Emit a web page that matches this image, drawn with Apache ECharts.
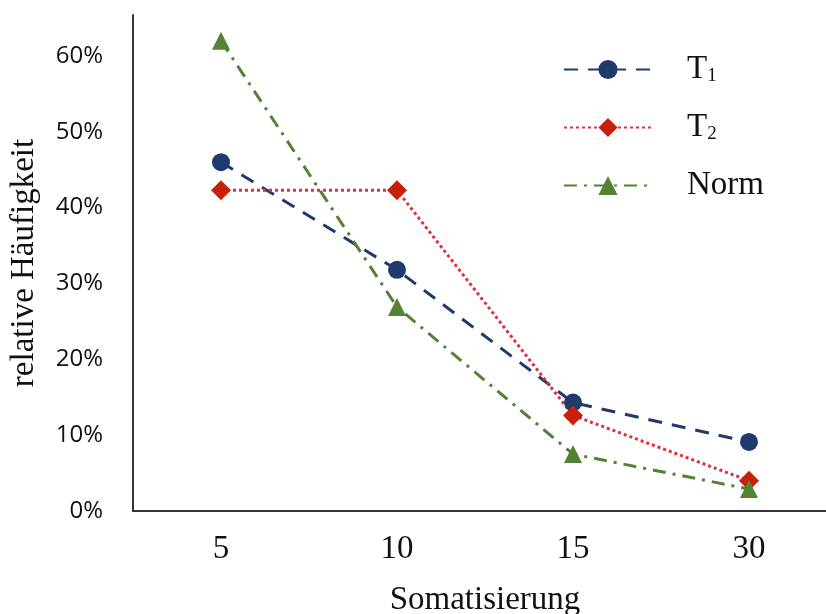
<!DOCTYPE html>
<html>
<head>
<meta charset="utf-8">
<script src="https://cdn.jsdelivr.net/npm/echarts@6/dist/echarts.min.js"></script>
<style>
  html, body { margin: 0; padding: 0; background: #fff; }
  #chart { width: 826px; height: 614px; }
</style>
</head>
<body>
<div id="chart"></div>
<script>
// categories on the x axis
var categories = ['5', '10', '15', '30'];
// relative frequencies per group
var t1Values = [0.46, 0.318, 0.143, 0.091];
var t2Values = [0.423, 0.423, 0.126, 0.04];
var normValues = [0.62, 0.269, 0.075, 0.029];
var yTicks = [0, 0.1, 0.2, 0.3, 0.4, 0.5, 0.6];

var chart = echarts.init(document.getElementById('chart'));

var serif = '"Liberation Serif", "DejaVu Serif", serif';
var sans = '"Open Sans", "Noto Sans", sans-serif';

chart.setOption({
  animation: false,
  backgroundColor: '#fff',
  grid: {
    left: 133,
    top: 15,
    width: 704,
    bottom: 103,
    outerBoundsMode: 'none',
    containLabel: false
  },
  legend: {
    left: 558,
    top: 48,
    orient: 'vertical',
    itemWidth: 88,
    itemHeight: 24,
    itemGap: 25,
    textStyle: {
      fontFamily: serif,
      fontSize: 33,
      color: '#111',
      padding: [0, 0, 0, 30],
      rich: {
        sub: { fontFamily: serif, fontSize: 19, color: '#111', verticalAlign: 'bottom', padding: [14, 0, 0, 0] }
      }
    },
    formatter: function (name) {
      if (name === 'T1') return 'T{sub|1}';
      if (name === 'T2') return 'T{sub|2}';
      return name;
    },
    data: ['T1', 'T2', 'Norm']
  },
  xAxis: {
    type: 'category',
    data: categories,
    boundaryGap: true,
    name: 'Somatisierung',
    nameLocation: 'middle',
    nameGap: 73,
    nameTextStyle: { fontFamily: serif, fontSize: 33, color: '#111' },
    axisLine: { show: true, lineStyle: { color: '#333', width: 2 } },
    axisTick: { show: false },
    axisLabel: { fontFamily: serif, fontSize: 33, color: '#111', margin: 22 },
    splitLine: { show: false }
  },
  yAxis: {
    type: 'value',
    min: yTicks[0],
    max: 0.654,
    interval: 0.1,
    name: 'relative Häufigkeit',
    nameLocation: 'middle',
    nameGap: 92,
    nameTextStyle: { fontFamily: serif, fontSize: 33, color: '#111' },
    axisLine: { show: true, lineStyle: { color: '#333', width: 2 } },
    axisTick: { show: false },
    axisLabel: {
      fontFamily: sans,
      fontSize: 24,
      color: '#111',
      margin: 30,
      showMaxLabel: false,
      formatter: function (v) {
        var p = Math.round(v * 100);
        if (p % 10 !== 0) return '';
        return p + '%';
      }
    },
    splitLine: { show: false }
  },
  series: [
    {
      name: 'T1',
      type: 'line',
      data: t1Values,
      symbol: 'circle',
      symbolSize: 18,
      itemStyle: { color: '#1f3a6e' },
      lineStyle: { color: '#1f3a6e', width: 3, type: [14, 10] }
    },
    {
      name: 'T2',
      type: 'line',
      data: t2Values,
      symbol: 'diamond',
      symbolSize: 20,
      itemStyle: { color: '#c8200a' },
      lineStyle: { color: '#e0303a', width: 3, type: [3, 3] }
    },
    {
      name: 'Norm',
      type: 'line',
      data: normValues,
      symbol: 'triangle',
      symbolSize: 18,
      itemStyle: { color: '#548235' },
      lineStyle: { color: '#548235', width: 3, type: [13, 7, 3, 7] }
    }
  ]
});
</script>
</body>
</html>
